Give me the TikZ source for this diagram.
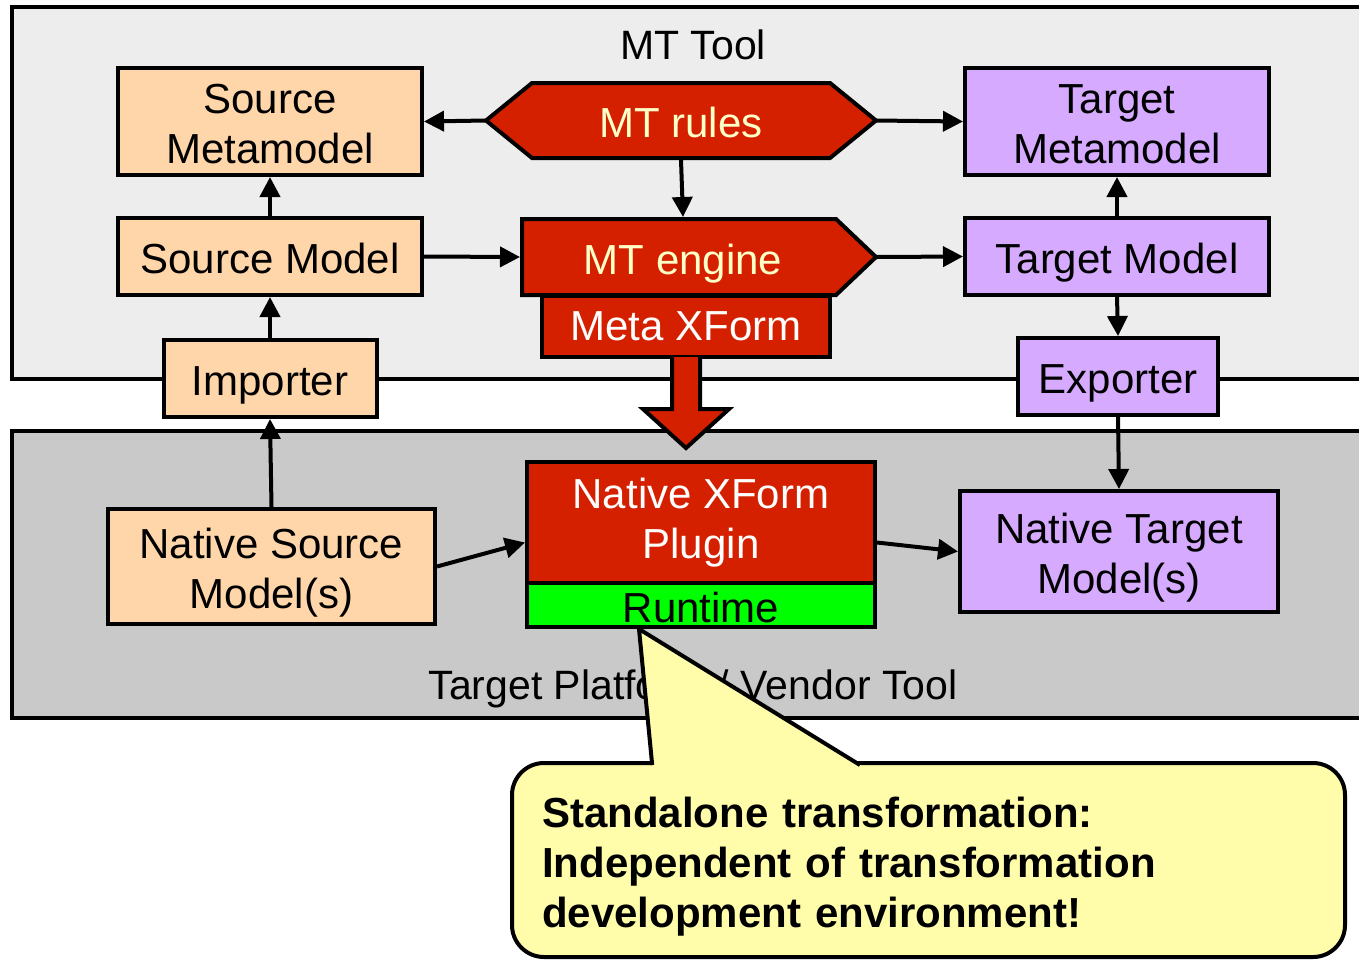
\documentclass[tikz,border=0pt]{standalone}
\usepackage{fontspec}
\setmainfont{Liberation Sans}
\usetikzlibrary{arrows.meta,calc}
\definecolor{peach}{HTML}{FFD6A9}
\definecolor{lav}{HTML}{D6AAFF}
\definecolor{mtred}{HTML}{D52000}
\definecolor{cream}{HTML}{FFFFC8}
\definecolor{toolgray}{HTML}{EDEDED}
\definecolor{platgray}{HTML}{C9C9C9}
\definecolor{notefill}{HTML}{FFFDAA}
\definecolor{rtgreen}{HTML}{00FF00}
\begin{document}
\begin{tikzpicture}[x=0.5pt,y=-0.5pt,
  base/.style={line width=2pt,font=\fontsize{21pt}{25pt}\selectfont,align=center,inner sep=0pt,
    text height=17pt,text depth=0pt},
  twolines/.style={text height=42pt,text depth=0pt},
  srcbox/.style={base,draw=black,fill=peach},
  tgtbox/.style={base,draw=black,fill=lav},
  redbox/.style={base,draw=black,fill=mtred,text=white},
  redshape/.style={draw=black,line width=2pt,fill=mtred,line join=miter},
  txt/.style={base},
  conn/.style={line width=2pt,-{Triangle[length=10pt,width=10pt]}},
  frame/.style={draw=black,line width=2pt},
  framelabel/.style={font=\fontsize{20.5pt}{24pt}\selectfont,inner sep=0pt},
  notebox/.style={draw=black,line width=2pt,fill=notefill,rounded corners=16pt,
    font=\fontsize{21pt}{25pt}\selectfont\bfseries,align=left,inner xsep=15pt,inner ysep=0pt,
    text height=17pt,text depth=50pt}]
\useasboundingbox (0,0) rectangle (1359,960);
\clip (0,0) rectangle (1359,960);

% tool frames
\draw[frame,fill=toolgray] (12,7) rectangle (1390,379);
\draw[frame,fill=platgray] (12,431) rectangle (1390,718);
\node[framelabel] (mttool) at (693,45) {MT Tool};
\node[framelabel] (platform) at (693,689) {Target Platform / Vendor Tool};

% source side
\node[srcbox,twolines,minimum width=152pt,minimum height=53.5pt] (srcmm) at (270,121.5) {Source\\Metamodel};
\node[srcbox,minimum width=152pt,minimum height=38.5pt] (srcm) at (270,256.5) {Source Model};
\node[srcbox,minimum width=106.5pt,minimum height=38.5pt] (imp) at (270,378.5) {Importer};
\node[srcbox,twolines,minimum width=163.5pt,minimum height=57.5pt] (nsrc) at (271.5,566.5) {Native Source\\Model(s)};

% target side
\node[tgtbox,twolines,minimum width=152pt,minimum height=53.5pt] (tgtmm) at (1117,121.5) {Target\\Metamodel};
\node[tgtbox,minimum width=152pt,minimum height=38.5pt] (tgtm) at (1117,256.5) {Target Model};
\node[tgtbox,minimum width=100pt,minimum height=38.5pt] (exp) at (1118,376.5) {Exporter};
\node[tgtbox,twolines,minimum width=159pt,minimum height=60.5pt] (ntgt) at (1119,551.5) {Native Target\\Model(s)};

% transformation rules (hexagon)
\coordinate (mtrW) at (486,120.5);
\coordinate (mtrE) at (876,120.5);
\draw[redshape] (mtrW) -- (532,83) -- (830,83) -- (mtrE) -- (830,158) -- (532,158) -- cycle;
\node[txt,text=cream,minimum width=149pt,minimum height=37.5pt] (mtr) at (681,120.5) {MT rules};

% meta transformation and engine
\node[redbox,text height=14pt,minimum width=144pt,minimum height=30.5pt] (mx) at (686,326.5) {Meta XForm};
\coordinate (mteE) at (876,257);
\draw[redshape] (522,219) -- (836,219) -- (mteE) -- (836,295) -- (522,295) -- cycle;
\node[txt,text=cream,minimum width=161pt,minimum height=38pt] (mte) at (683,257) {MT engine};

% native plugin
\node[redbox,twolines,text height=36pt,minimum width=174pt,minimum height=60.5pt] (nxp) at (701,522.5) {Native XForm\\Plugin};
\node[base,draw=black,fill=rtgreen,minimum width=174pt,minimum height=22pt] (rt) at (701,605) {Runtime};

% generation arrow
\draw[redshape] ([xshift=-7pt,yshift=1pt]mx.south) -- ++(0,52) -- ++(-29,0) -- ++(43,39)
  -- ++(43,-39) -- ++(-29,0) -- ([xshift=7pt,yshift=1pt]mx.south);

% connectors
\draw[conn] (mtrW) -- (srcmm.east);
\draw[conn] (mtrE) -- (tgtmm.west);
\draw[conn] (mtr.south) -- (mte.north);
\draw[conn] (srcm.east) -- (mte.west);
\draw[conn] (mteE) -- (tgtm.west);
\draw[conn] (srcm.north) -- (srcmm.south);
\draw[conn] (imp.north) -- (srcm.south);
\draw[conn] (nsrc.north) -- (imp.south);
\draw[conn] (tgtm.north) -- (tgtmm.south);
\draw[conn] (tgtm.south) -- (exp.north);
\draw[conn] (exp.south) -- (ntgt.north);
\draw[conn] (nsrc.east) -- ([yshift=-10pt]nxp.west);
\draw[conn] ([yshift=-10pt]nxp.east) -- (ntgt.west);

% callout
\node[notebox,minimum width=416.5pt,minimum height=97pt,text width=386.5pt] (note) at (928.5,860)
  {Standalone transformation:\\Independent of transformation\\development environment!};
\coordinate (tip) at (639,629);
\fill[notefill] (652.4,767) -- (tip) -- (863.5,767) -- cycle;
\draw[line width=2pt,line join=miter] (652.2,765) -- (tip) -- (860,765);
\end{tikzpicture}
\end{document}
